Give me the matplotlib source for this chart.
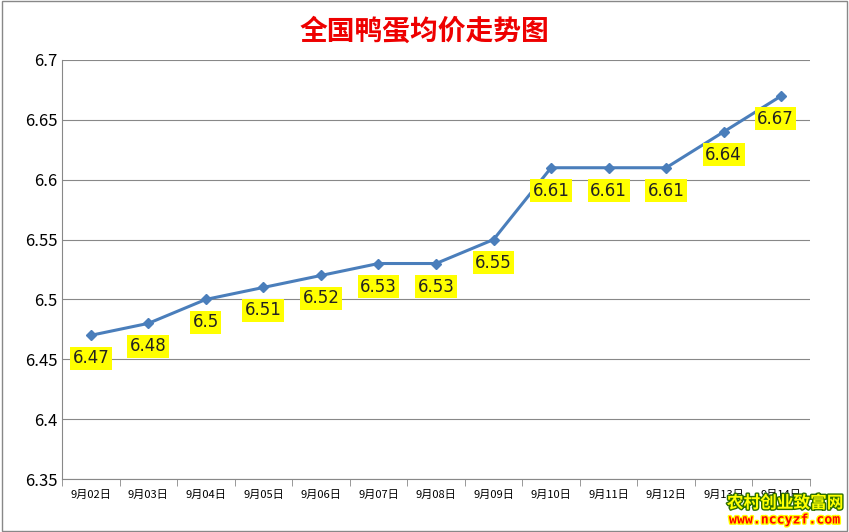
import matplotlib.pyplot as plt
import matplotlib.patheffects as pe
from matplotlib.patches import Rectangle

plt.rcParams['font.family'] = ['Noto Sans CJK SC', 'DejaVu Sans']

dates = ["9月02日", "9月03日", "9月04日", "9月05日", "9月06日", "9月07日", "9月08日",
         "9月09日", "9月10日", "9月11日", "9月12日", "9月13日", "9月14日"]
prices = [6.47, 6.48, 6.50, 6.51, 6.52, 6.53, 6.53, 6.55, 6.61, 6.61, 6.61, 6.64, 6.67]
labels = ["6.47", "6.48", "6.5", "6.51", "6.52", "6.53", "6.53", "6.55",
          "6.61", "6.61", "6.61", "6.64", "6.67"]

fig = plt.figure(figsize=(8.49, 5.32), dpi=100)
ax = fig.add_axes([62 / 849, 1 - 479 / 532, 748 / 849, 419 / 532])
fig.patches.append(Rectangle((0.002, 0.002), 0.996, 0.996, transform=fig.transFigure,
                             fill=False, edgecolor='#888888', linewidth=1))

x = list(range(len(dates)))
ax.plot(x, prices, color='#4a7ebb', linewidth=2.2, marker='D', markersize=5, zorder=3)
for xi, yi, lab in zip(x, prices, labels):
    dx = -0.1 if xi == len(x) - 1 else 0
    ax.annotate(lab, (xi, yi), xytext=(dx * 57, -23), textcoords='offset pixels',
                ha='center', va='center', fontsize=12, color='#222222', family='DejaVu Sans',
                bbox=dict(boxstyle='square,pad=0.15', facecolor='#ffff00', edgecolor='none'), zorder=4)

ax.set_xlim(-0.5, len(x) - 0.5)
ax.set_ylim(6.35, 6.7)
ax.set_yticks([6.35, 6.4, 6.45, 6.5, 6.55, 6.6, 6.65, 6.7])
ax.set_yticklabels(["6.35", "6.4", "6.45", "6.5", "6.55", "6.6", "6.65", "6.7"], fontsize=12)
ax.yaxis.grid(True, color='#888888', linewidth=0.8)
ax.set_axisbelow(True)
ax.set_xticks(x)
ax.set_xticklabels(dates, fontsize=8)
ax.set_xticks([i - 0.5 for i in range(len(x) + 1)], minor=True)
ax.tick_params(axis='x', which='major', length=0, pad=8)
ax.tick_params(axis='x', which='minor', length=5, color='#888888')
ax.tick_params(axis='y', length=0)
for s in ['top', 'right']:
    ax.spines[s].set_visible(False)
for s in ['left', 'bottom']:
    ax.spines[s].set_color('#888888')

fig.text(0.5, 1 - 32 / 532, "全国鸭蛋均价走势图", ha='center', va='center',
         fontsize=20, fontweight='bold', color='#ee0000')
fig.text(785 / 849, 1 - 503 / 532, "农村创业致富网", ha='center', va='center', fontsize=12,
         color='#ffff00', fontweight='bold',
         path_effects=[pe.withStroke(linewidth=2, foreground='#2a6e00')])
fig.text(785 / 849, 1 - 520 / 532, "www.nccyzf.com", ha='center', va='center', fontsize=9.5,
         color='#ff0000', family='DejaVu Sans Mono', fontweight='bold',
         path_effects=[pe.withStroke(linewidth=2, foreground='#ffff00')])

fig.savefig("out.png", dpi=100)
